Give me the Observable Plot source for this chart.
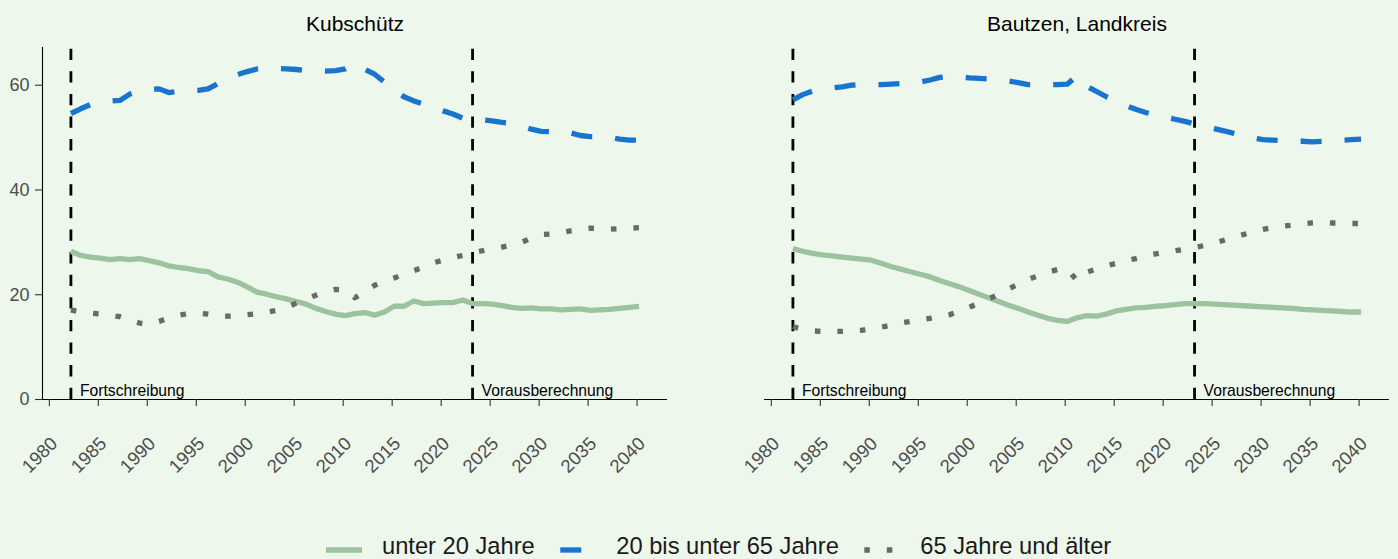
<!DOCTYPE html>
<html>
<head>
<meta charset="utf-8">
<script src="https://cdn.jsdelivr.net/npm/d3@7"></script>
<script src="https://cdn.jsdelivr.net/npm/@observablehq/plot@0.6"></script>
<style>
  html, body { margin: 0; padding: 0; background: #EEF7EC; }
  body { width: 1398px; height: 559px; overflow: hidden; font-family: "Liberation Sans", Arial, sans-serif; }
  svg { display: block; }
</style>
</head>
<body>
<div id="chart"></div>
<div id="legend"></div>
<script>
const regions = ["Kubschütz", "Bautzen, Landkreis"];
const groups = ["unter 20 Jahre", "20 bis unter 65 Jahre", "65 Jahre und älter"];
const years = [1982,1983,1984,1985,1986,1987,1988,1989,1990,1991,
  1992,1993,1994,1995,1996,1997,1998,1999,2000,2001,
  2002,2003,2004,2005,2006,2007,2008,2009,2010,2011,
  2012,2013,2014,2015,2016,2017,2018,2019,2020,2021,
  2022,2023,2024,2025,2026,2027,2028,2029,2030,2031,
  2032,2033,2034,2035,2036,2037,2038,2039,2040];
const xTicks = [1980,1985,1990,1995,2000,2005,2010,2015,2020,2025,2030,2035,2040];
const yTicks = [0,20,40,60];
const periodYears = [1982, 2023];
const periodLabels = ["Fortschreibung", "Vorausberechnung"];

const kubU20 = [28.3,27.5,27.2,27.0,26.7,26.9,26.7,26.9,26.5,26.1,
  25.5,25.2,25.0,24.6,24.4,23.4,23.0,22.4,21.5,20.5,
  20.1,19.6,19.2,18.7,18.2,17.4,16.8,16.3,16.0,16.4,
  16.6,16.1,16.7,17.8,17.8,18.8,18.3,18.4,18.5,18.5,
  19.0,18.3,18.3,18.2,17.9,17.6,17.4,17.5,17.3,17.3,
  17.1,17.2,17.3,17.0,17.1,17.2,17.4,17.6,17.8];
const kub2065 = [54.6,55.5,56.3,56.8,57.0,57.1,58.3,58.9,59.2,59.3,
  58.6,58.8,59.0,59.0,59.3,60.3,61.2,62.0,62.6,63.1,
  63.3,63.2,63.1,63.0,62.8,62.8,62.7,62.8,63.1,64.1,
  63.0,62.1,60.6,59.0,57.8,57.0,56.4,55.8,55.1,54.5,
  53.7,53.5,53.4,53.2,52.9,52.7,52.2,51.6,51.2,51.1,
  51.3,50.9,50.4,50.2,50.2,50.1,49.7,49.5,49.5];
const kub65 = [17.1,16.7,16.5,16.3,16.1,15.8,15.2,14.6,14.4,14.9,
  15.6,16.1,16.4,16.5,16.3,16.0,15.9,16.0,16.2,16.4,
  16.7,17.0,17.6,18.4,19.2,19.9,20.6,21.0,20.9,19.4,
  20.6,21.8,22.6,23.2,23.9,24.6,25.3,26.1,26.6,27.1,
  27.5,28.0,28.4,28.8,29.1,29.5,30.0,30.8,31.5,31.6,
  31.8,32.2,32.5,32.7,32.6,32.5,32.6,32.7,32.8];

const bauU20 = [28.8,28.3,27.9,27.6,27.4,27.2,27.0,26.8,26.6,26.0,
  25.4,24.9,24.4,23.9,23.4,22.7,22.1,21.5,20.8,20.1,
  19.4,18.7,18.0,17.4,16.7,16.1,15.5,15.1,14.9,15.6,
  16.0,15.9,16.3,16.9,17.2,17.5,17.6,17.8,17.9,18.1,
  18.3,18.3,18.3,18.2,18.1,18.0,17.9,17.8,17.7,17.6,
  17.5,17.4,17.2,17.1,17.0,16.9,16.8,16.7,16.7];
const bau2065 = [57.2,58.2,58.9,59.3,59.5,59.7,60.0,60.1,60.1,60.1,
  60.2,60.3,60.4,60.6,61.0,61.5,61.7,61.6,61.4,61.3,
  61.2,61.0,60.8,60.5,60.1,60.1,60.1,60.1,60.2,61.8,
  59.8,58.8,57.8,57.0,56.1,55.4,54.8,54.3,53.9,53.5,
  53.1,52.6,52.1,51.7,51.3,50.8,50.3,49.9,49.6,49.5,
  49.4,49.3,49.3,49.2,49.3,49.4,49.5,49.6,49.7];
const bau65 = [13.9,13.4,13.1,13.0,13.0,13.0,13.1,13.2,13.5,13.8,
  14.2,14.6,14.9,15.2,15.5,15.9,16.2,16.8,17.6,18.4,
  19.2,20.1,21.1,22.0,22.9,23.6,24.3,24.8,24.9,22.7,
  24.3,24.9,25.5,26.0,26.5,26.9,27.4,27.8,28.1,28.4,
  28.7,29.0,29.4,29.9,30.4,31.0,31.5,32.0,32.5,32.8,
  33.1,33.3,33.5,33.7,33.8,33.7,33.7,33.6,33.6];

const colors = ["#9CC39D", "#1874CD", "#696969"];
const dashes = [null, "21,23", "5.5,17"];

const seriesByRegion = {
  "Kubschütz": [kubU20, kub2065, kub65],
  "Bautzen, Landkreis": [bauU20, bau2065, bau65]
};
const rows = regions.flatMap(r => groups.flatMap((g, gi) =>
  years.map((y, i) => ({region: r, group: g, year: y, value: seriesByRegion[r][gi][i]}))));

const xDomain = [1979.1, 2042.9];
const yDomain = [0, 67.2];

const lineMarks = groups.map((g, gi) => Plot.line(rows.filter(d => d.group === g), {
  x: "year", y: "value", fx: "region", z: "region",
  stroke: colors[gi], strokeWidth: 5.3,
  strokeDasharray: dashes[gi] || undefined,
  strokeLinecap: "butt", strokeLinejoin: "round", curve: "linear"
}));

const vlines = periodYears.map((y, i) => ({year: y, lo: yDomain[0], hi: yDomain[1], label: periodLabels[i]}));

const chart = Plot.plot({
  width: 1398, height: 525,
  marginLeft: 41, marginRight: 9, marginTop: 47, marginBottom: 126,
  style: {background: "transparent", fontFamily: "'Liberation Sans', Arial, sans-serif", overflow: "visible"},
  x: {domain: xDomain},
  y: {domain: yDomain},
  fx: {domain: regions, padding: 0.1349, axis: null},
  marks: [
    Plot.ruleX([{region: regions[0], x: xDomain[0], lo: yDomain[0], hi: yDomain[1]}],
      {fx: "region", x: "x", y1: "lo", y2: "hi", stroke: "#000", strokeWidth: 1.1}),
    Plot.ruleY([0], {stroke: "#000", strokeWidth: 1.1}),
    Plot.ruleX(vlines, {x: "year", y1: "lo", y2: "hi", stroke: "#000", strokeWidth: 2.8, strokeDasharray: "11.3,11.3"}),
    ...lineMarks,
    Plot.text(vlines, {x: "year", y: 0, text: "label", textAnchor: "start", lineAnchor: "bottom",
      dx: 9, dy: -3.5, fontSize: 15.7, fill: "#000"}),
    Plot.text(regions, {fx: d => d, text: d => d, frameAnchor: "top", dy: -31, fontSize: 21, fill: "#000"}),
    Plot.axisY({ticks: yTicks, tickSize: 7, tickPadding: 6, fontSize: 18, fill: "#4D4D4D",
      stroke: "#333", strokeWidth: 1.1, label: null}),
    Plot.axisX({ticks: xTicks, tickFormat: d => String(d), tickRotate: -45, tickSize: 7, tickPadding: 29,
      fontSize: 18.5, fill: "#4D4D4D", stroke: "#333", strokeWidth: 1.1, label: null,
      textAnchor: "end", lineAnchor: "top", dx: -2})
  ]
});
document.getElementById("chart").appendChild(chart);

// Legend below the chart
const legend = d3.select("#legend").append("svg")
  .attr("width", 1398).attr("height", 34)
  .style("font-family", "'Liberation Sans', Arial, sans-serif");
let x = 326;
groups.forEach((g, gi) => {
  legend.append("line")
    .attr("x1", x).attr("x2", x + 36).attr("y1", 25).attr("y2", 25)
    .attr("stroke", colors[gi]).attr("stroke-width", 5.3)
    .attr("stroke-dasharray", dashes[gi] || null)
    .attr("stroke-linecap", "butt");
  const t = legend.append("text")
    .attr("x", x + 56).attr("y", 29)
    .attr("font-size", 23.7).attr("fill", "#1A1A1A").text(g);
  x = x + 56 + t.node().getComputedTextLength() + 25.5;
});
</script>
</body>
</html>
